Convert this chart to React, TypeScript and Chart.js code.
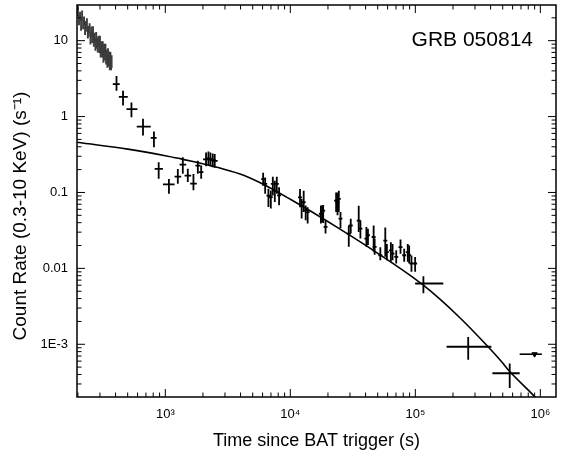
import { useEffect, useRef } from 'react';
import { Chart, registerables } from 'chart.js';

Chart.register(...registerables);

const FONT = '"Liberation Sans", Arial, Helvetica, sans-serif';

// ---- WT mode (dense grey band) ----
const wtTime = [200, 204, 208, 212, 216, 220, 224, 228, 232, 236, 240, 244, 248, 252, 256, 260, 264, 268, 272, 276, 280, 284, 288, 292, 296, 300, 304, 308, 312, 316, 320, 324, 328, 332, 336, 340, 344, 348, 352, 356, 360, 364, 368, 372];
const wtRate = [24.6, 19.3, 21.1, 16.5, 21.7, 16.8, 18.3, 14.3, 15.6, 17.1, 13.0, 13.5, 14.7, 11.0, 13.2, 11.2, 13.5, 10.1, 11.0, 9.1, 11.3, 9.4, 8.5, 10.0, 8.4, 10.0, 7.4, 8.4, 7.3, 8.5, 6.4, 7.8, 6.7, 7.8, 6.0, 6.5, 5.5, 6.8, 5.6, 6.1, 5.1, 6.0, 5.1, 5.4];
const wtRelErr = [0.15, 0.17, 0.14, 0.18, 0.15, 0.16, 0.14, 0.17, 0.16, 0.15, 0.18, 0.16, 0.15, 0.19, 0.16, 0.17, 0.15, 0.18, 0.16, 0.19, 0.15, 0.17, 0.18, 0.16, 0.18, 0.16, 0.19, 0.17, 0.18, 0.16, 0.2, 0.17, 0.18, 0.17, 0.19, 0.18, 0.2, 0.17, 0.19, 0.18, 0.2, 0.18, 0.2, 0.19];
const wtHalfBin = 2;

// ---- PC mode points (black crosses) ----
const pcTime = [407, 459, 536, 663, 811, 885, 1069, 1259, 1380, 1513, 1679, 1820, 1936, 2118, 2212, 2295, 2395, 2484,
  6061, 6291, 6681, 6982, 7243, 7513, 7794, 8128,
  11950, 12320, 12790, 13270, 13760,
  17560, 17980, 18310, 19130,
  23240, 23850, 24430, 25190,
  29340, 30430, 35240, 36360, 40580, 41780, 46390, 47250, 52460, 57490, 59200, 63700, 65730, 70330, 76100, 81440, 86990, 89240, 93100, 99630,
  116000, 264800, 568700];
const pcRate = [2.67, 1.82, 1.25, 0.737, 0.524, 0.205, 0.128, 0.162, 0.233, 0.167, 0.131, 0.226, 0.185, 0.273, 0.282, 0.273, 0.266, 0.261,
  0.150, 0.130, 0.091, 0.0868, 0.130, 0.106, 0.130, 0.0913,
  0.0863, 0.0674, 0.0743, 0.0581, 0.0552,
  0.0524, 0.0549, 0.0578, 0.0352,
  0.0782, 0.0743, 0.0823, 0.0453,
  0.0287, 0.0367, 0.0426, 0.0333, 0.0247, 0.0273, 0.0259, 0.0192, 0.0149, 0.0232, 0.0164, 0.0173, 0.0156, 0.0142, 0.0190, 0.0149, 0.0164, 0.0149, 0.0116, 0.0116,
  0.00632, 0.000928, 0.000415];
const pcRateLo = [2.19, 1.40, 0.98, 0.564, 0.395, 0.152, 0.0965, 0.130, 0.177, 0.137, 0.107, 0.176, 0.152, 0.222, 0.228, 0.222, 0.215, 0.211,
  0.123, 0.096, 0.0644, 0.0614, 0.0913, 0.0747, 0.0959, 0.0678,
  0.0640, 0.0453, 0.0552, 0.0431, 0.0391,
  0.0389, 0.0407, 0.0395, 0.0288,
  0.0552, 0.0500, 0.0552, 0.0337,
  0.0192, 0.0287, 0.0301, 0.0247, 0.0192, 0.0203, 0.0166, 0.0151, 0.0128, 0.0142, 0.0128, 0.0122, 0.0128, 0.0116, 0.0156, 0.0122, 0.0122, 0.0116, 0.0090, 0.0090,
  0.00469, 0.000623, 0.000265];
const pcRateHi = [3.43, 2.18, 1.53, 0.935, 0.637, 0.250, 0.151, 0.204, 0.290, 0.206, 0.175, 0.262, 0.226, 0.336, 0.347, 0.336, 0.327, 0.321,
  0.182, 0.157, 0.112, 0.106, 0.161, 0.143, 0.161, 0.117,
  0.111, 0.0823, 0.105, 0.0674, 0.0640,
  0.0671, 0.0671, 0.0684, 0.0429,
  0.100, 0.100, 0.105, 0.0552,
  0.0367, 0.0449, 0.0667, 0.0426, 0.0350, 0.0333, 0.0367, 0.0247, 0.0190, 0.0346, 0.0210, 0.0221, 0.0210, 0.0173, 0.0240, 0.0182, 0.0210, 0.0200, 0.0148, 0.0141,
  0.00787, 0.00125, 0.000559];
const pcTimeLo = [380, 425, 489, 591, 764, 822, 957, 1186, 1300, 1426, 1581, 1741, 1858, 2006, 2095, 2173, 2268, 2352,
  5845, 6066, 6443, 6733, 6985, 7245, 7516, 7838,
  11520, 11880, 12330, 12800, 13270,
  16930, 17340, 17660, 18450,
  22410, 23000, 23560, 24290,
  28290, 29340, 33980, 35060, 39130, 40290, 44730, 45560, 50590, 55440, 57090, 61430, 63380, 67820, 73380, 78530, 83890, 86060, 89780, 96070,
  99630, 177800, 413300];
const pcTimeHi = [432, 501, 598, 764, 853, 957, 1186, 1341, 1469, 1611, 1786, 1910, 2018, 2236, 2336, 2423, 2529, 2623,
  6285, 6524, 6928, 7240, 7511, 7791, 8082, 8429,
  12390, 12780, 13260, 13760, 14270,
  18210, 18650, 18990, 19840,
  24100, 24730, 25330, 26120,
  30430, 31560, 36540, 37710, 42080, 43330, 48110, 49000, 54400, 59620, 61390, 66060, 68160, 72930, 78920, 84450, 90210, 92540, 96550, 103300,
  167400, 405600, 683100];

// ---- upper limit ----
const ulTime = [899000];
const ulTimeLo = [683100];
const ulTimeHi = [1028000];
const ulRate = [0.00074];

// ---- model curve ----
const modelTime = [180, 197, 501, 1000, 1340, 3908, 5636, 10000, 24430, 50100, 115900, 223900, 382000, 490000, 568900, 865000, 1122000];
const modelRate = [0.468, 0.458, 0.372, 0.305, 0.277, 0.176, 0.136, 0.0813, 0.0337, 0.0158, 0.0060, 0.00229, 0.000927, 0.000589, 0.000437, 0.000219, 0.000138];

// ---- axes ----
const xMin = 196.6;
const xMax = 1.334e6;
const yMin = 2.02e-4;
const yMax = 29.5;
const xTickValues = [1e3, 1e4, 1e5, 1e6];
const xTickLabels = ['10³', '10⁴', '10⁵', '10⁶'];
const yTickValues = [10, 1, 0.1, 0.01, 0.001];
const yTickLabels = ['10', '1', '0.1', '0.01', '1E-3'];
const xTitle = 'Time since BAT trigger (s)';
const yTitle = 'Count Rate (0.3-10 KeV) (s⁻¹)';
const plotLabel = 'GRB 050814';

function labelFor(v: number, vals: number[], labels: string[]) {
  const i = vals.findIndex((t) => Math.abs(Math.log10(t) - Math.log10(v)) < 1e-6);
  return i >= 0 ? labels[i] : '';
}

const errorBarPlugin = {
  id: 'errorBars',
  afterDatasetsDraw(chart: any) {
    const { ctx, chartArea: a } = chart;
    const xs = chart.scales.x;
    const ys = chart.scales.y;
    ctx.save();
    ctx.beginPath();
    ctx.rect(a.left, a.top, a.right - a.left, a.bottom - a.top);
    ctx.clip();
    chart.data.datasets.forEach((ds: any) => {
      if (!ds.errorBars) return;
      ctx.strokeStyle = ds.errorColor;
      ctx.lineWidth = ds.errorWidth;
      ds.data.forEach((p: any) => {
        const px = xs.getPixelForValue(p.x);
        const py = ys.getPixelForValue(p.y);
        ctx.beginPath();
        if (p.yMin != null) {
          ctx.moveTo(px, ys.getPixelForValue(p.yMin));
          ctx.lineTo(px, ys.getPixelForValue(p.yMax));
        }
        if (p.xMin != null) {
          ctx.moveTo(xs.getPixelForValue(p.xMin), py);
          ctx.lineTo(xs.getPixelForValue(p.xMax), py);
        }
        ctx.stroke();
      });
    });
    ctx.restore();
  },
};

const framePlugin = {
  id: 'frame',
  afterDraw(chart: any) {
    const { ctx, chartArea: a } = chart;
    const xs = chart.scales.x;
    const ys = chart.scales.y;
    ctx.save();
    ctx.strokeStyle = '#000';
    ctx.lineWidth = 1;
    const drawTicks = (scale: any, horizontal: boolean) => {
      const lo = Math.floor(Math.log10(scale.min));
      const hi = Math.ceil(Math.log10(scale.max));
      for (let e = lo; e <= hi; e++) {
        for (let m = 1; m <= 9; m++) {
          const v = m * Math.pow(10, e);
          if (v < scale.min || v > scale.max) continue;
          const p = scale.getPixelForValue(v);
          const len = m === 1 ? 8 : 4.5;
          ctx.beginPath();
          if (horizontal) {
            ctx.moveTo(p, a.bottom);
            ctx.lineTo(p, a.bottom - len);
            ctx.moveTo(p, a.top);
            ctx.lineTo(p, a.top + len);
          } else {
            ctx.moveTo(a.left, p);
            ctx.lineTo(a.left + len, p);
            ctx.moveTo(a.right, p);
            ctx.lineTo(a.right - len, p);
          }
          ctx.stroke();
        }
      }
    };
    drawTicks(xs, true);
    drawTicks(ys, false);
    ctx.lineWidth = 1.5;
    ctx.strokeRect(a.left, a.top, a.right - a.left, a.bottom - a.top);
    ctx.fillStyle = '#000';
    ctx.font = `21px ${FONT}`;
    ctx.textAlign = 'right';
    ctx.textBaseline = 'alphabetic';
    ctx.fillText(plotLabel, a.right - 23, a.top + 41);
    // y-axis title
    ctx.save();
    ctx.translate(20.3, 216);
    ctx.rotate(-Math.PI / 2);
    ctx.font = `19px ${FONT}`;
    ctx.textAlign = 'center';
    ctx.textBaseline = 'middle';
    ctx.fillText(yTitle, 0, 0);
    ctx.restore();
    ctx.restore();
  },
};

export default function App() {
  const ref = useRef<HTMLCanvasElement>(null);
  useEffect(() => {
    document.body.style.margin = '0';
    const canvas = ref.current!;
    const wtData = wtTime.map((t, i) => ({
      x: t,
      y: wtRate[i],
      xMin: t - wtHalfBin,
      xMax: t + wtHalfBin,
      yMin: wtRate[i] * (1 - wtRelErr[i]),
      yMax: wtRate[i] * (1 + wtRelErr[i]),
    }));
    const pcData = pcTime.map((t, i) => ({
      x: t,
      y: pcRate[i],
      xMin: pcTimeLo[i],
      xMax: pcTimeHi[i],
      yMin: pcRateLo[i],
      yMax: pcRateHi[i],
    }));
    const ulData = ulTime.map((t, i) => ({ x: t, y: ulRate[i], xMin: ulTimeLo[i], xMax: ulTimeHi[i] }));
    const modelData = modelTime.map((t, i) => ({ x: t, y: modelRate[i] }));

    const chart = new Chart(canvas, {
      type: 'scatter',
      data: {
        datasets: [
          {
            label: 'model',
            data: modelData,
            showLine: true,
            borderColor: '#000',
            borderWidth: 1.6,
            pointRadius: 0,
            cubicInterpolationMode: 'monotone',
            fill: false,
          } as any,
          { label: 'WT', data: wtData, pointRadius: 0, errorBars: true, errorColor: '#3c3c3c', errorWidth: 1.9 } as any,
          { label: 'PC', data: pcData, pointRadius: 0, errorBars: true, errorColor: '#000', errorWidth: 1.8 } as any,
          {
            label: 'UL',
            data: ulData,
            pointStyle: 'triangle',
            rotation: 180,
            pointRadius: 3,
            backgroundColor: '#000',
            borderColor: '#000',
            borderWidth: 1,
            errorBars: true,
            errorColor: '#000',
            errorWidth: 1.6,
          } as any,
        ],
      },
      options: {
        animation: false,
        responsive: false,
        events: [],
        layout: { padding: { top: 4, right: 3, left: 0, bottom: 0 } },
        plugins: { legend: { display: false }, tooltip: { enabled: false } },
        scales: {
          x: {
            type: 'logarithmic',
            position: 'bottom',
            min: xMin,
            max: xMax,
            grid: { display: false, drawTicks: false },
            border: { display: false },
            afterBuildTicks: (s: any) => {
              s.ticks = xTickValues.map((v) => ({ value: v }));
            },
            afterFit: (s: any) => {
              s.height = 64;
              s.paddingLeft = 0;
              s.paddingRight = 0;
            },
            ticks: {
              autoSkip: false,
              maxRotation: 0,
              padding: 10,
              color: '#000',
              font: { family: FONT, size: 13 },
              callback: (v: any) => labelFor(Number(v), xTickValues, xTickLabels),
            },
            title: {
              display: true,
              text: xTitle,
              color: '#000',
              font: { family: FONT, size: 18 },
              padding: { top: 0, bottom: 9.4 },
            },
          },
          y: {
            type: 'logarithmic',
            position: 'left',
            min: yMin,
            max: yMax,
            grid: { display: false, drawTicks: false },
            border: { display: false },
            afterBuildTicks: (s: any) => {
              s.ticks = yTickValues.map((v) => ({ value: v }));
            },
            afterFit: (s: any) => {
              s.width = 77;
              s.paddingTop = 0;
              s.paddingBottom = 0;
            },
            ticks: {
              autoSkip: false,
              padding: 9,
              color: '#000',
              font: { family: FONT, size: 13 },
              callback: (v: any) => labelFor(Number(v), yTickValues, yTickLabels),
            },
            title: { display: false },
          },
        },
      } as any,
      plugins: [errorBarPlugin, framePlugin],
    });
    return () => chart.destroy();
  }, []);
  return (
    <div style={{ width: 561, height: 461 }}>
      <canvas ref={ref} width={561} height={461} style={{ display: 'block' }} />
    </div>
  );
}
